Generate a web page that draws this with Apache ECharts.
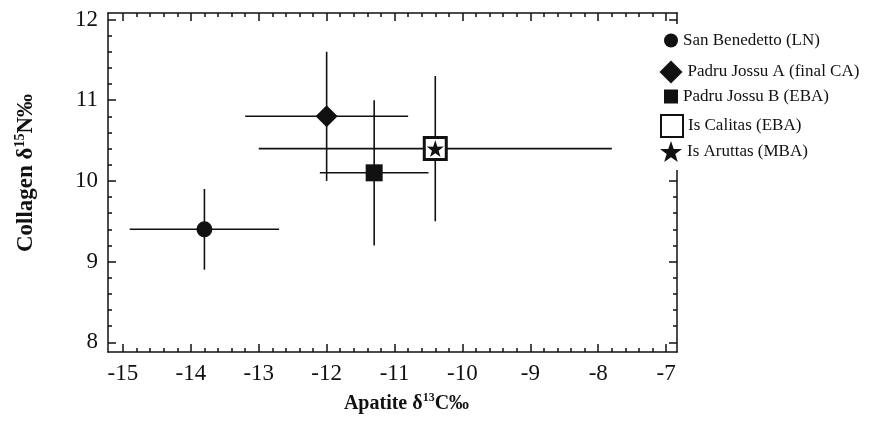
<!DOCTYPE html>
<html>
<head>
<meta charset="utf-8">
<title>Apatite vs Collagen</title>
<script src="https://cdn.jsdelivr.net/npm/echarts@6/dist/echarts.min.js"></script>
<style>
  html, body { margin: 0; padding: 0; background: #fff; }
  #chart { width: 878px; height: 439px; }
</style>
</head>
<body>
<div id="chart"></div>
<script>
// values
const sites = ['San Benedetto (LN)', 'Padru Jossu A (final CA)', 'Padru Jossu B (EBA)', 'Is Calitas (EBA)', 'Is Aruttas (MBA)']
const apatiteC = [-13.8, -12.0, -11.3, -10.4, -10.4]
const collagenN = [9.4, 10.8, 10.1, 10.4, 10.4]
// error bar ends (null = no bar drawn)
const apatiteLow = [-14.9, -13.2, -12.1, null, -13.0]
const apatiteHigh = [-12.7, -10.8, -10.5, null, -7.8]
const collagenLow = [8.9, 10.0, 9.2, null, 9.5]
const collagenHigh = [9.9, 11.6, 11.0, null, 11.3]

const xTicks = [-15, -14, -13, -12, -11, -10, -9, -8, -7]
const yTicks = [8, 9, 10, 11, 12]

const FONT = "'Liberation Serif', 'Times New Roman', serif"
const INK = '#111'
const STAR = 'path://M50,0 L61.8,35.1 L97.6,34.5 L68.8,56.4 L79.4,90.5 L50,70 L20.6,90.5 L31.2,56.4 L2.4,34.5 L38.2,35.1 Z'

// marker look per site (plot size, legend size, legend centre y)
const markers = [
  { symbol: 'circle', size: 16, legendSize: 14, cy: 42, style: { color: INK } },
  { symbol: 'diamond', size: 22, legendSize: 23, cy: 72, style: { color: INK } },
  { symbol: 'rect', size: 17, legendSize: 14, cy: 98, style: { color: INK } },
  { symbol: 'rect', size: 22, legendSize: 22, cy: 125, style: { color: '#fff', borderColor: INK, borderWidth: 3 } },
  { symbol: STAR, size: 17, legendSize: 22, cy: 152, style: { color: INK } }
]

function minorsOf (ticks) {
  const out = []
  for (let i = 0; i < ticks.length - 1; i++) {
    for (let k = 1; k < 5; k++) out.push(+(ticks[i] + k * 0.2).toFixed(1))
  }
  return out
}

const lineStyle = { color: INK, width: 1.5 }
const labelStyle = { color: INK, fontFamily: FONT, fontSize: 23, margin: 10 }
function nameStyle (size) {
  return {
    color: INK,
    fontFamily: FONT,
    fontWeight: 'bold',
    fontSize: size,
    rich: {
      b: { fontFamily: FONT, fontWeight: 'bold', fontSize: size, color: INK, lineHeight: size + 4 },
      s: { fontFamily: FONT, fontWeight: 'bold', fontSize: Math.round(size * 0.6), color: INK, lineHeight: size + 4, verticalAlign: 'top' }
    }
  }
}

function frameAxis (position, range, ticks, len, withLine, withLabels) {
  return {
    type: 'value',
    position: position,
    min: range[0],
    max: range[1],
    axisLine: { show: withLine, onZero: false, lineStyle: lineStyle },
    axisTick: { show: true, inside: true, length: len, customValues: ticks, lineStyle: lineStyle },
    axisLabel: withLabels ? Object.assign({ customValues: ticks }, labelStyle) : { show: false },
    splitLine: { show: false }
  }
}

const xRange = [-15.22, -6.84]
const yRange = [7.88, 12.08]

const xAxis = [
  Object.assign(frameAxis('bottom', xRange, xTicks, 8, true, true), {
    name: '{b|Apatite δ}{s|13}{b|C‰}',
    nameLocation: 'middle',
    nameGap: 40,
    nameTextStyle: Object.assign({ padding: [0, 0, 0, 28] }, nameStyle(20))
  }),
  frameAxis('bottom', xRange, minorsOf(xTicks), 4, false, false),
  frameAxis('top', xRange, xTicks, 8, true, false),
  frameAxis('top', xRange, minorsOf(xTicks), 4, false, false)
]

const yAxis = [
  Object.assign(frameAxis('left', yRange, yTicks, 8, true, true), {
    name: '{b|Collagen δ}{s|15}{b|N‰}',
    nameLocation: 'middle',
    nameRotate: 90,
    nameGap: 68,
    nameTextStyle: Object.assign({ padding: [0, 0, 0, 19] }, nameStyle(23))
  }),
  frameAxis('left', yRange, minorsOf(yTicks), 4, false, false),
  frameAxis('right', yRange, yTicks, 8, true, false),
  frameAxis('right', yRange, minorsOf(yTicks), 4, false, false)
]

const errorData = []
sites.forEach((s, i) => {
  if (apatiteLow[i] == null) return
  errorData.push([apatiteC[i], collagenN[i], apatiteLow[i], apatiteHigh[i], collagenLow[i], collagenHigh[i]])
})

const series = [{
  type: 'custom',
  name: 'error',
  z: 1,
  silent: true,
  data: errorData,
  renderItem: (params, api) => {
    const x = api.value(0)
    const y = api.value(1)
    const a = api.coord([api.value(2), y])
    const b = api.coord([api.value(3), y])
    const c = api.coord([x, api.value(4)])
    const d = api.coord([x, api.value(5)])
    const style = { stroke: INK, lineWidth: 1.6 }
    return {
      type: 'group',
      children: [
        { type: 'line', shape: { x1: a[0], y1: a[1], x2: b[0], y2: b[1] }, style: style },
        { type: 'line', shape: { x1: c[0], y1: c[1], x2: d[0], y2: d[1] }, style: style }
      ]
    }
  }
}]

sites.forEach((name, i) => {
  series.push({
    type: 'scatter',
    name: name,
    z: 3 + i,
    symbol: markers[i].symbol,
    symbolSize: markers[i].size,
    itemStyle: Object.assign({ opacity: 1 }, markers[i].style),
    data: [[apatiteC[i], collagenN[i]]]
  })
})

const legend = sites.map((name, i) => {
  const m = markers[i]
  const h = Math.max(m.legendSize, 20)
  return {
    data: [name],
    selectedMode: false,
    orient: 'vertical',
    left: 671 - m.legendSize / 2 - 4,
    top: m.cy - h / 2 - 8,
    padding: [8, 4, 8, 4],
    backgroundColor: '#fff',
    itemWidth: m.legendSize,
    itemHeight: m.legendSize,
    textStyle: { color: INK, fontFamily: FONT, fontSize: 17 }
  }
})

const chart = echarts.init(document.getElementById('chart'))
chart.setOption({
  animation: false,
  backgroundColor: '#fff',
  grid: { left: 108, right: 201, top: 13, bottom: 87 },
  legend: legend,
  xAxis: xAxis,
  yAxis: yAxis,
  series: series
})
</script>
</body>
</html>
